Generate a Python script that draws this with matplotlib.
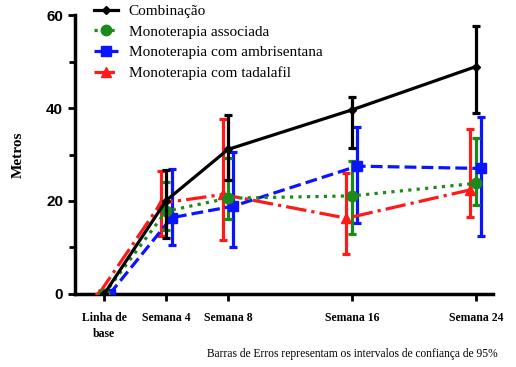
import numpy as np
import matplotlib.pyplot as plt
from matplotlib.lines import Line2D

semanas = [0, 4, 8, 16, 24]
rotulos = ['Linha de\nbase', 'Semana 4', 'Semana 8', 'Semana 16', 'Semana 24']

comb = [0, 20.1, 31.1, 39.6, 48.9]
comb_lo = [0, 12.0, 24.5, 31.5, 39.0]
comb_hi = [0, 26.7, 38.5, 42.4, 57.6]

assoc = [0, 17.8, 20.6, 21.1, 23.8]
assoc_lo = [0, 13.8, 16.1, 13.0, 19.1]
assoc_hi = [0, 24.0, 29.2, 28.6, 33.6]

ambri = [0, 16.4, 18.9, 27.5, 27.0]
ambri_lo = [0, 10.5, 10.2, 15.3, 12.5]
ambri_hi = [0, 26.9, 30.6, 36.0, 38.0]

tada = [0, 19.5, 21.4, 16.3, 22.4]
tada_lo = [0, 12.5, 11.6, 8.5, 16.5]
tada_hi = [0, 26.5, 37.6, 26.1, 35.5]

series = [
    ('Combinação', comb, comb_lo, comb_hi, 'black', '-', 'D', 0.0, 4.5),
    ('Monoterapia associada', assoc, assoc_lo, assoc_hi, '#1a8a1a', ':', 'o', 0.0, 7.5),
    ('Monoterapia com ambrisentana', ambri, ambri_lo, ambri_hi, '#0a14ff', '--', 's', 0.35, 6.5),
    ('Monoterapia com tadalafil', tada, tada_lo, tada_hi, '#ff1a1a', '-.', '^', -0.35, 7),
]

fig = plt.figure(figsize=(5.16, 3.67), dpi=100)
ax = fig.add_axes([0.145, 0.199, 0.81, 0.76])

handles = []
# desenha na ordem inversa para a combinação ficar por cima
for nome, y, lo, hi, cor, ls, mk, dx, ms in series[::-1]:
    x = np.array(semanas) + dx
    y = np.array(y)
    err = [y - np.array(lo), np.array(hi) - y]
    ax.errorbar(x, y, yerr=err, color=cor, ls=ls, lw=2.3, marker=mk, ms=ms,
                capsize=3.2, capthick=2.3, elinewidth=2.3,
                zorder=5 if cor == 'black' else 3)
    handles.append(Line2D([], [], color=cor, ls=ls, lw=2.3, marker=mk, ms=ms))

ax.set_xlim(-1.9, 25.1)
ax.set_ylim(0, 60)
ax.set_yticks([0, 20, 40, 60])
ax.set_yticks([10, 30, 50], minor=True)
ax.set_xticks(semanas)
ax.set_xticklabels(rotulos, fontfamily='Liberation Serif', fontweight='bold', fontsize=8.5,
                   linespacing=1.4)
for t in ax.get_yticklabels():
    t.set_fontfamily('Liberation Sans')
    t.set_fontweight('bold')
    t.set_fontsize(11)
ax.spines['top'].set_visible(False)
ax.spines['right'].set_visible(False)
ax.spines['left'].set_linewidth(2.5)
ax.spines['bottom'].set_linewidth(2.5)
ax.tick_params(axis='both', which='both', width=2, direction='out')
ax.tick_params(axis='both', which='major', length=5)
ax.tick_params(axis='x', which='major', pad=8)
ax.tick_params(axis='y', which='minor', length=4)
ax.set_ylabel('Metros', fontfamily='Liberation Serif', fontweight='bold', fontsize=11, labelpad=15)

fig.legend(handles[::-1], [s[0] for s in series], loc='upper left',
           bbox_to_anchor=(0.155, 1.025), frameon=False,
           prop={'family': 'Liberation Serif', 'size': 11},
           handlelength=1.6, labelspacing=0.45, handletextpad=0.7)

fig.text(0.965, 0.02, 'Barras de Erros representam os intervalos de confiança de 95%',
         ha='right', va='bottom', fontfamily='Liberation Serif', fontsize=8.3)

fig.savefig('out.png', dpi=100)
